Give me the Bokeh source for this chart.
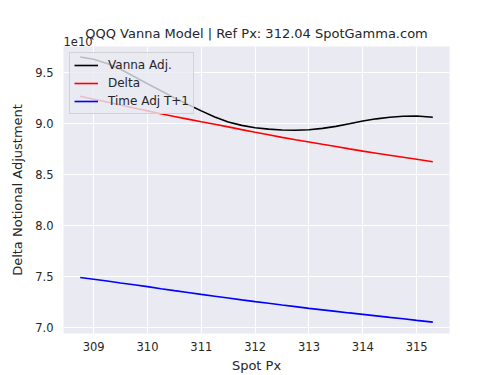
from bokeh.plotting import figure
from bokeh.models import Range1d, FixedTicker, Legend, LegendItem, Title, ColumnDataSource
from bokeh.embed import file_html
from bokeh.resources import INLINE

# Spot prices
spot = [308.75, 309.0, 309.25, 309.5, 309.75, 310.0, 310.25, 310.5, 310.75, 311.0,
        311.25, 311.5, 311.75, 312.0, 312.25, 312.5, 312.75, 313.0, 313.25, 313.5,
        313.75, 314.0, 314.25, 314.5, 314.75, 315.0, 315.3]
# Values in units of 1e10
vanna_adj = [9.654, 9.632, 9.590, 9.533, 9.462, 9.391, 9.322, 9.253, 9.188, 9.125,
             9.065, 9.016, 8.983, 8.960, 8.946, 8.937, 8.935, 8.940, 8.953, 8.973,
             8.998, 9.025, 9.047, 9.062, 9.072, 9.075, 9.062]
delta = [9.269, 9.240, 9.212, 9.183, 9.154, 9.125, 9.097, 9.070, 9.044, 9.018,
         8.993, 8.968, 8.941, 8.915, 8.890, 8.865, 8.842, 8.820, 8.797, 8.775,
         8.752, 8.730, 8.710, 8.690, 8.670, 8.650, 8.625]
time_adj = [7.490, 7.473, 7.455, 7.436, 7.418, 7.400, 7.380, 7.361, 7.343, 7.324,
            7.306, 7.288, 7.270, 7.253, 7.237, 7.220, 7.204, 7.187, 7.172, 7.157,
            7.142, 7.128, 7.113, 7.098, 7.084, 7.069, 7.052]

x_ticks = [309, 310, 311, 312, 313, 314, 315]
y_ticks = [7.0, 7.5, 8.0, 8.5, 9.0, 9.5]

TXT = "#262626"
FONT = "DejaVu Sans"

p = figure(frame_width=386, frame_height=287, output_backend="svg", toolbar_location=None,
           x_range=Range1d(308.44, 315.61), y_range=Range1d(6.94, 9.757),
           min_border_left=63, min_border_right=51, min_border_top=46, min_border_bottom=42)

p.background_fill_color = "#EAEAF2"
p.border_fill_color = "white"
p.outline_line_color = None

# offset text (closest to the frame)
p.add_layout(Title(text="1e10", align="left", standoff=1, text_font=FONT,
                   text_font_size="11.5px", text_font_style="normal", text_color=TXT), "above")
# main title
p.add_layout(Title(text="QQQ Vanna Model | Ref Px: 312.04 SpotGamma.com", align="center",
                   standoff=-12, text_font=FONT, text_font_size="13px",
                   text_font_style="normal", text_color=TXT), "above")

for ax in (p.xaxis[0], p.yaxis[0]):
    ax.axis_line_color = None
    ax.major_tick_line_color = None
    ax.minor_tick_line_color = None
    ax.major_tick_out = 0
    ax.major_tick_in = 0
    ax.minor_tick_out = 0
    ax.minor_tick_in = 0
    ax.major_label_text_font = FONT
    ax.major_label_text_font_size = "11.5px"
    ax.major_label_text_color = TXT
    ax.axis_label_text_font = FONT
    ax.axis_label_text_font_size = "13px"
    ax.axis_label_text_font_style = "normal"
    ax.axis_label_text_color = TXT

p.xaxis.ticker = FixedTicker(ticks=x_ticks)
p.yaxis.ticker = FixedTicker(ticks=y_ticks)
p.yaxis.major_label_overrides = {t: f"{t:.1f}" for t in y_ticks}
p.xaxis.axis_label = "Spot Px"
p.yaxis.axis_label = "Delta Notional Adjustment"
p.xaxis.major_label_standoff = 8
p.xaxis.axis_label_standoff = 4
p.yaxis.major_label_standoff = 10
p.yaxis.axis_label_standoff = 7

p.xgrid.grid_line_color = "white"
p.ygrid.grid_line_color = "white"
p.xgrid.grid_line_width = 1.1
p.ygrid.grid_line_width = 1.1

src = ColumnDataSource(dict(x=spot, v=vanna_adj, d=delta, t=time_adj))
r1 = p.line("x", "v", source=src, line_color="black", line_width=1.6)
r2 = p.line("x", "d", source=src, line_color="red", line_width=1.6)
r3 = p.line("x", "t", source=src, line_color="blue", line_width=1.6)

legend = Legend(items=[LegendItem(label="Vanna Adj.", renderers=[r1]),
                       LegendItem(label="Delta", renderers=[r2]),
                       LegendItem(label="Time Adj T+1", renderers=[r3])],
                location="top_left", margin=6, padding=4, spacing=2,
                glyph_width=24, glyph_height=16, label_standoff=10,
                label_text_font=FONT, label_text_font_size="12px", label_text_color=TXT,
                background_fill_color="#EAEAF2", background_fill_alpha=0.8,
                border_line_color="#cccccc", border_line_alpha=0.8)
p.add_layout(legend)

open("out.html", "w").write(file_html(p, INLINE))
